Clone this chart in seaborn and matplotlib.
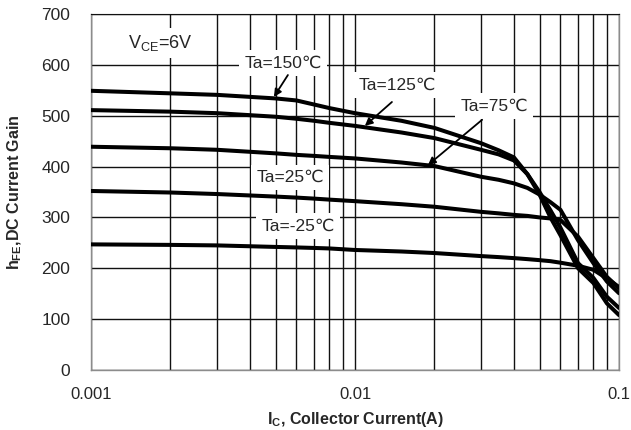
import numpy as np
import pandas as pd
import matplotlib
matplotlib.use("Agg")
import matplotlib.pyplot as plt
import matplotlib.ticker as mticker
import seaborn as sns

# Collector current (A)
ic = [0.001, 0.002, 0.003, 0.005, 0.006, 0.007, 0.008, 0.01, 0.015, 0.02,
      0.03, 0.035, 0.04, 0.045, 0.05, 0.055, 0.06, 0.07, 0.08, 0.09, 0.1]

# DC current gain per ambient temperature
hfe_150 = [549, 544, 541, 534, 530, 522, 515, 505, 490, 476,
           446, 432, 418, 385, 345, 300, 265, 200, 171, 131, 108]
hfe_125 = [511, 508, 505, 498, 494, 490, 486, 480, 467, 456,
           433, 424, 412, 385, 350, 314, 280, 210, 181, 144, 122]
hfe_75 = [439, 436, 433, 426, 423, 421, 419, 416, 408, 401,
          380, 374, 367, 358, 345, 330, 315, 255, 210, 174, 151]
hfe_25 = [352, 349, 346, 341, 339, 337, 335, 332, 326, 321,
          311, 308, 305, 303, 300, 298, 295, 262, 220, 183, 161]
hfe_m25 = [247, 246, 245, 242, 241, 240, 239, 236, 233, 230,
           224, 222, 220, 218, 216, 214, 211, 205, 197, 180, 163]

temps = ["Ta=150℃", "Ta=125℃", "Ta=75℃", "Ta=25℃", "Ta=-25℃"]
series = [hfe_150, hfe_125, hfe_75, hfe_25, hfe_m25]

y_ticks = [0, 100, 200, 300, 400, 500, 600, 700]
x_ticks = [0.001, 0.01, 0.1]
x_tick_labels = ["0.001", "0.01", "0.1"]

df = pd.concat(
    [pd.DataFrame({"Ic": ic, "hFE": vals, "Temp": t}) for t, vals in zip(temps, series)],
    ignore_index=True,
)

sns.set_style("white")
plt.rcParams["font.family"] = ["Liberation Sans", "DejaVu Sans"]
plt.rcParams["mathtext.fontset"] = "custom"
plt.rcParams["mathtext.rm"] = "Liberation Sans"
plt.rcParams["mathtext.bf"] = "Liberation Sans:bold"

fig = plt.figure(figsize=(6.31, 4.30), dpi=100)
ax = fig.add_axes([91 / 631, 60 / 430, 528 / 631, 356 / 430])

ax.set_xscale("log")
ax.set_xlim(0.001, 0.1)
ax.set_ylim(0, 700)

# grid: horizontal at every 100, vertical at each log subdivision
ax.set_yticks(y_ticks)
ax.set_xticks(x_ticks)
ax.set_xticklabels(x_tick_labels)
ax.xaxis.set_minor_locator(mticker.LogLocator(base=10, subs=np.arange(2, 10)))
ax.xaxis.set_minor_formatter(mticker.NullFormatter())
ax.grid(True, which="both", axis="x", color="#111111", linewidth=1.0)
ax.grid(True, which="major", axis="y", color="#111111", linewidth=1.0)
ax.set_axisbelow(True)

sns.lineplot(data=df, x="Ic", y="hFE", hue="Temp", palette=["black"] * 5,
             linewidth=2.9, legend=False, ax=ax, zorder=3)

for side in ["left", "bottom", "right"]:
    ax.spines[side].set_color("#8c8c8c")
    ax.spines[side].set_linewidth(1.0)
ax.spines["top"].set_color("#111111")

ax.tick_params(axis="x", which="major", length=5, color="#8c8c8c", pad=7, labelsize=12)
ax.tick_params(axis="x", which="minor", length=0)
ax.tick_params(axis="y", length=0, pad=15, labelsize=12.5)

ax.set_xlabel(r"I$_{\mathbf{C}}$, Collector Current(A)", fontsize=11.5, fontweight="bold", labelpad=6)
ax.set_ylabel(r"h$_{\mathbf{FE}}$,DC Current Gain", fontsize=11.5, fontweight="bold", labelpad=12)

box = dict(boxstyle="square,pad=0.3", facecolor="white", edgecolor="none")
ax.text(0.00138, 643, r"V$_{\mathrm{CE}}$=6V", fontsize=13, ha="left", va="center",
        bbox=box, zorder=4)

arrow = dict(arrowstyle="-|>", color="black", lw=1.3, mutation_scale=11,
             shrinkA=0, shrinkB=0)
lbl = 12.5
ax.text(0.00534, 604, "Ta=150℃", fontsize=lbl, ha="center", va="center", bbox=box, zorder=4)
ax.annotate("", xy=(0.00493, 537), xytext=(0.00557, 580), arrowprops=arrow, zorder=5)

ax.text(0.01443, 560, "Ta=125℃", fontsize=lbl, ha="center", va="center", bbox=box, zorder=4)
ax.annotate("", xy=(0.0109, 480), xytext=(0.0138, 527), arrowprops=arrow, zorder=5)

ax.text(0.0336, 519, "Ta=75℃", fontsize=lbl, ha="center", va="center", bbox=box, zorder=4)
ax.annotate("", xy=(0.0189, 403), xytext=(0.0303, 492), arrowprops=arrow, zorder=5)

ax.text(0.00567, 379, "Ta=25℃", fontsize=lbl, ha="center", va="center", bbox=box, zorder=4)
ax.text(0.00608, 283, "Ta=-25℃", fontsize=lbl, ha="center", va="center", bbox=box, zorder=4)

fig.savefig("out.png", dpi=100, facecolor="white")
